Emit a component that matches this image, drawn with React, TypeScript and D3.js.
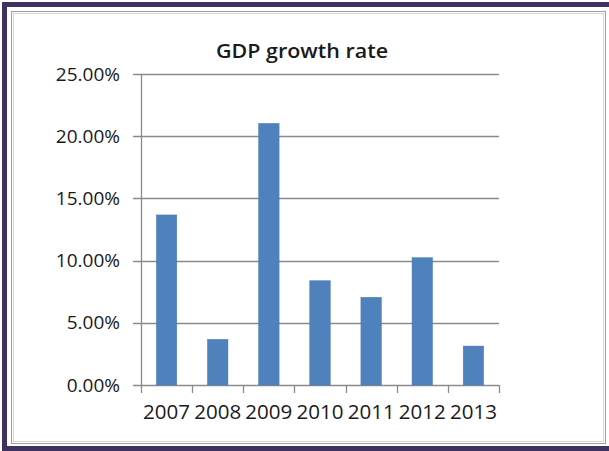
import React from "react";
import * as d3 from "d3";

const categories = ["2007", "2008", "2009", "2010", "2011", "2012", "2013"];
const growthValues = [0.1367, 0.0367, 0.2103, 0.0838, 0.0705, 0.1023, 0.0313];
const yTicks = [0, 0.05, 0.1, 0.15, 0.2, 0.25];
const title = "GDP growth rate";

const W = 609;
const H = 451;
const plot = { left: 141, right: 499, top: 74, bottom: 385 };

export default function App() {
  const x = d3
    .scaleBand<string>()
    .domain(categories)
    .range([plot.left, plot.right])
    .paddingInner(0.6)
    .paddingOuter(0.3);
  const xOuter = d3.scaleBand<string>().domain(categories).range([plot.left, plot.right]);
  const y = d3.scaleLinear().domain([0, 0.25]).range([plot.bottom, plot.top]);
  const fmt = d3.format(".2%");
  const font = "'Open Sans', sans-serif";
  const tickEdges = [...categories.map((c) => xOuter(c)!), plot.right];

  return (
    <svg
      width={W}
      height={H}
      style={{ position: "absolute", left: 0, top: 0, background: "#fff" }}
    >
      <rect x={0} y={0} width={W} height={H} fill="#ffffff" />
      {/* outer purple frame */}
      <rect x={4.5} y={4.5} width={W + 10} height={H - 7} fill="none" stroke="#3f3261" strokeWidth={5} />
      {/* inner gray double frame */}
      <rect x={11.5} y={11.5} width={W - 15} height={H - 19} fill="none" stroke="#9e9e9e" strokeWidth={1} />
      <rect x={13.5} y={13.5} width={W - 19} height={H - 23} fill="none" stroke="#d4d4d4" strokeWidth={1} />

      <text x={302} y={58} textAnchor="middle" fontFamily={font} fontWeight={600} fontSize={19} fill="#1a1a1a" textLength={172} lengthAdjust="spacingAndGlyphs">
        {title}
      </text>

      {yTicks.map((t) => (
        <g key={t}>
          <line x1={plot.left - 8} x2={plot.right} y1={Math.round(y(t)) + 0.5} y2={Math.round(y(t)) + 0.5} stroke="#8a8a8a" strokeWidth={1.3} />
          <text x={120} y={y(t)} dy="0.35em" textAnchor="end" fontFamily={font} fontSize={19} fill="#1a1a1a">
            {fmt(t)}
          </text>
        </g>
      ))}

      <line x1={plot.left + 0.5} x2={plot.left + 0.5} y1={plot.top} y2={plot.bottom} stroke="#8a8a8a" strokeWidth={1.3} />
      {tickEdges.map((e, i) => (
        <line key={i} x1={Math.round(e) + 0.5} x2={Math.round(e) + 0.5} y1={plot.bottom} y2={plot.bottom + 8} stroke="#8a8a8a" strokeWidth={1.3} />
      ))}

      {categories.map((c, i) => (
        <rect
          key={c}
          x={x(c)!}
          y={y(growthValues[i])}
          width={x.bandwidth()}
          height={plot.bottom - y(growthValues[i])}
          fill="#4f81bd"
          stroke="#4a7ab5"
          strokeWidth={0.5}
        />
      ))}

      {categories.map((c) => (
        <text key={c} x={xOuter(c)! + xOuter.bandwidth() / 2} y={419} textAnchor="middle" fontFamily={font} fontSize={20} fill="#1a1a1a" textLength={47} lengthAdjust="spacingAndGlyphs">
          {c}
        </text>
      ))}
    </svg>
  );
}
